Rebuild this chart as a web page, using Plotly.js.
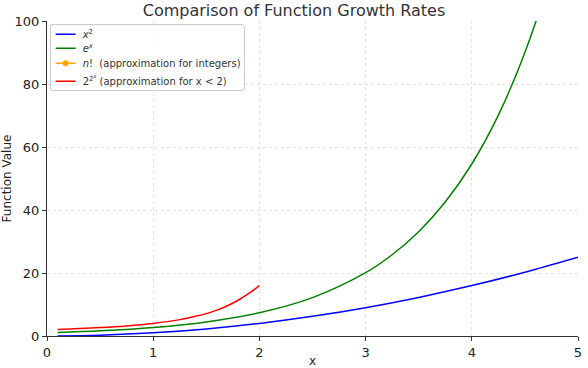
<!DOCTYPE html>
<html><head><meta charset="utf-8">
<script src="https://cdn.plot.ly/plotly-3.0.1.min.js"></script>
<style>html,body{margin:0;padding:0;background:#fff}</style>
</head><body><div id="chart" style="width:588px;height:368px"></div>
<script>
const xSquareX = [0.1,0.5,1,1.5,2,2.5,3,3.5,4,4.5,5];
const xSquareY = [0.01,0.25,1,2.25,4,6.25,9,12.25,16,20.25,25];
const expX = [0.1,0.5,1,1.5,2,2.5,3,3.25,3.5,3.75,4,4.25,4.5,4.75,5];
const expY = [1.1,1.65,2.72,4.48,7.39,12.18,20.09,25.79,33.12,42.52,54.6,70.11,90.02,115.58,148.41];
const factX = [null];
const factY = [null];
const dblX = [0.1,0.25,0.5,0.75,1,1.25,1.4,1.5,1.6,1.7,1.8,1.9,2];
const dblY = [2.10,2.28,2.67,3.21,4,5.20,6.25,7.10,8.20,9.60,11.35,13.50,16];
const names = ['<i>x</i><sup>2</sup>','<i>e</i><sup><i>x</i></sup>','<i>n</i>!  (approximation for integers)','2<sup>2<sup><i>x</i></sup></sup> (approximation for x < 2)'];

const traces = [
 {x:xSquareX,y:xSquareY,name:names[0],mode:'lines',line:{color:'#0000ff',width:1.5,shape:'spline'}},
 {x:expX,y:expY,name:names[1],mode:'lines',line:{color:'#008000',width:1.5,shape:'spline'}},
 {x:factX,y:factY,name:names[2],mode:'lines+markers',visible:'legendonly',line:{color:'#ffa500',width:1.5},marker:{color:'#ffa500',size:6}},
 {x:dblX,y:dblY,name:names[3],mode:'lines',line:{color:'#ff0000',width:1.5,shape:'spline'}}
];
const axisCommon = {showline:true,linecolor:'#333',linewidth:1,ticks:'outside',ticklen:4,tickcolor:'#333',
  showgrid:true,gridcolor:'#e2e2e2',griddash:'dot',gridwidth:1,zeroline:false,tickfont:{size:13,color:'#222'},mirror:false};
const layout = {
 width:588,height:368,
 margin:{l:47,r:10,t:21,b:32},
 paper_bgcolor:'#fff',plot_bgcolor:'#fff',
 font:{family:'DejaVu Sans, sans-serif',color:'#222'},
 title:{text:'Comparison of Function Growth Rates',font:{size:16,color:'#333'},x:0.5,xanchor:'center',y:0.972,yanchor:'middle'},
 xaxis:Object.assign({},axisCommon,{range:[0,5],dtick:1,title:{text:'x',font:{size:12},standoff:6}}),
 yaxis:Object.assign({},axisCommon,{range:[0,100],dtick:20,title:{text:'Function Value',font:{size:12},standoff:1}}),
 showlegend:true,
 legend:{x:0.005,y:0.99,xanchor:'left',yanchor:'top',bgcolor:'rgba(255,255,255,0.85)',bordercolor:'#ccc',borderwidth:1,font:{size:10,color:'#333'},tracegroupgap:0,itemwidth:30}
};
Plotly.newPlot('chart',traces,layout,{displayModeBar:false,staticPlot:true}).then(function(){
  const shift = 8;
  const rowY = [10, 24, 39, 57];
  document.querySelectorAll('#chart .legend .traces').forEach(function(t, i){
    t.style.opacity='1';
    t.setAttribute('transform','translate(1,'+rowY[i]+')');
    t.querySelectorAll('.legendlines path').forEach(function(p){p.setAttribute('d','M5,0h20');});
    t.querySelectorAll('.legendpoints path').forEach(function(p){p.setAttribute('transform','translate(15,0)');});
    t.querySelectorAll('text.legendtext').forEach(function(tx){
      tx.setAttribute('transform','translate(-'+shift+',0)');
    });
  });
  const bg = document.querySelector('#chart .legend rect.bg');
  if (bg) {
    bg.setAttribute('width', parseFloat(bg.getAttribute('width')) - shift - 2);
    bg.setAttribute('height', 66);
    bg.setAttribute('rx',3); bg.setAttribute('ry',3);
  }
});
</script></body></html>
